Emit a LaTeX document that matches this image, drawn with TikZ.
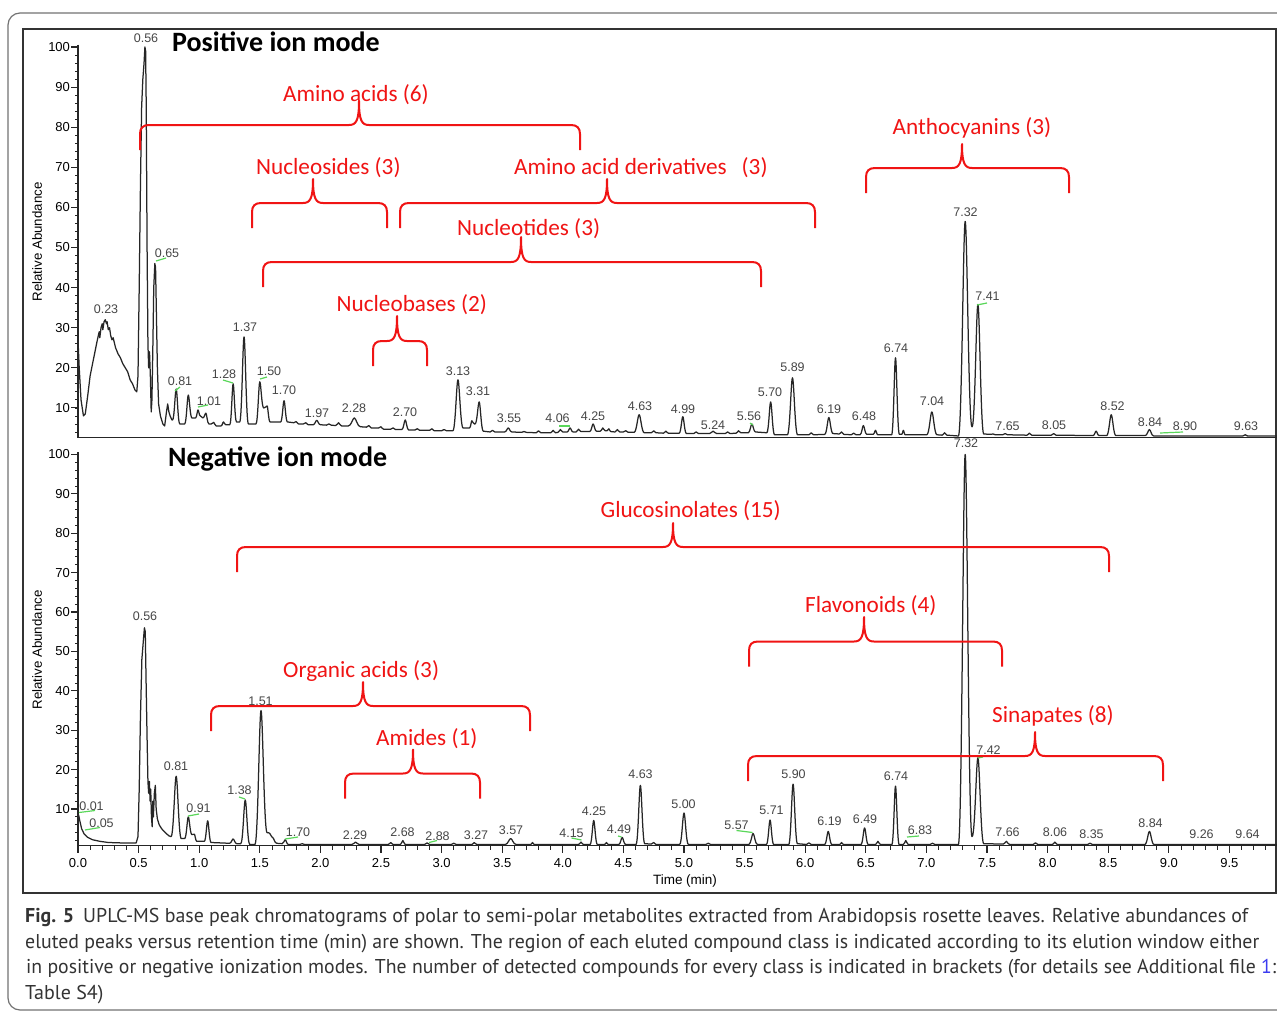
\documentclass[tikz,border=0pt]{standalone}
\usepackage{fontspec}
\usepackage{graphicx}
\setmainfont{Liberation Sans}
\newfontfamily\calfont{Carlito}
\newfontfamily\capfont{PT Sans}
\definecolor{brkred}{RGB}{240,20,20}
\definecolor{pkgray}{RGB}{70,70,70}
\definecolor{grnmark}{RGB}{90,215,90}
\definecolor{linkblue}{RGB}{60,60,240}
\tikzset{
  trace/.style={line width=1.25pt, black!85, line join=round},
  axisline/.style={line width=1.1pt, black!85},
  brk/.style={brkred, line width=2pt, line join=round},
  redlbl/.style={text=brkred, font=\calfont\fontsize{23.2}{23.2}\selectfont, inner sep=0pt, anchor=base west},
  ttl/.style={font=\calfont\bfseries\fontsize{28}{28}\selectfont, inner sep=0pt, anchor=base west},
  pklbl/.style={text=pkgray, font=\fontsize{12.5}{12.5}\selectfont, inner sep=0pt},
  axnum/.style={text=black, font=\fontsize{13}{13}\selectfont, inner sep=0pt},
  grn/.style={grnmark, line width=1.2pt},
  capl/.style={text=black!80, font=\capfont\fontsize{20}{20}\selectfont, inner sep=0pt, anchor=base west}
}
% bracket: x1, x2, xmid, yline, ycusp  (pixel coordinates, y downward)
\newcommand\redbrace[5]{%
  \draw[brk] (#1,#4+25) -- (#1,#4+9) .. controls (#1,#4+3) and (#1+3,#4) .. (#1+9,#4)
    -- ({#3-10},#4) .. controls ({#3-3},#4) and (#3,{#4-4}) .. (#3,#5)
    .. controls (#3,{#4-4}) and ({#3+3},#4) .. ({#3+10},#4)
    -- ({#2-9},#4) .. controls ({#2-3},#4) and (#2,#4+3) .. (#2,#4+9) -- (#2,#4+25);}
\begin{document}
\begin{tikzpicture}[x=1pt,y=-1pt]
\useasboundingbox (0,0) rectangle (1277,1012);
\clip (0,0) rectangle (1277,1012);
\fill[white] (0,0) rectangle (1277,1012);
% frames
\draw[black!55, line width=1.2pt, rounded corners=12pt] (8,13) rectangle (1320,1010);
\draw[black!80, line width=1.4pt] (23,29) rectangle (1276,893);

% ================= TOP PANEL =================
\begin{scope}[shift={(78,448)}, x=121.2pt, y=4.01pt]
  \draw[axisline] (0,100.6) -- (0,2.7) -- (9.9,2.7);
  \foreach \v in {4,6,...,100} {\draw[axisline, line width=0.8pt] (0,\v) -- ++(-3.5pt,0);}
  \foreach \v in {10,20,...,100} {\draw[axisline] (0,\v) -- ++(-7pt,0) node[axnum, anchor=east, xshift=-0.5pt] (ty\v) {\v};}
  \draw[trace] (0,27) -- (0.01,20) -- (0.025,12) -- (0.045,8) -- (0.06,8.5) -- (0.08,13) -- (0.1,18) -- (0.12,21) -- (0.14,24) -- (0.16,27) -- (0.175,29) -- (0.18,27.5) -- (0.19,30) -- (0.2,31) -- (0.205,29.5) -- (0.215,31.5) -- (0.225,32) -- (0.235,31) -- (0.24,31.5) -- (0.25,29.5) -- (0.26,30) -- (0.27,28) -- (0.28,27) -- (0.29,27.5) -- (0.31,25) -- (0.33,23.5) -- (0.35,22.5) -- (0.37,21) -- (0.39,20) -- (0.41,19) -- (0.43,17) -- (0.45,16) -- (0.47,14.5) -- (0.485,14) -- (0.495,18) -- (0.505,40) -- (0.515,65) -- (0.525,85) -- (0.535,92) -- (0.545,96) -- (0.552,100) -- (0.558,99) -- (0.563,85) -- (0.57,50) -- (0.577,26) -- (0.583,20) -- (0.59,24) -- (0.597,18) -- (0.604,9) -- (0.61,12) -- (0.617,24) -- (0.625,40) -- (0.634,46) -- (0.64,45) -- (0.646,35) -- (0.655,20) -- (0.665,11) -- (0.68,8) -- (0.7,6) -- (0.715,5.5) -- (0.73,9) -- (0.74,11) -- (0.75,9) -- (0.76,8) -- (0.775,7)
  \foreach \pkc/\pkh/\pkw/\pkl/\pkr in {
    0.81/14.7/0.03/7/6, 0.91/13.2/0.03/6/7.5, 0.99/9.5/0.02/7.5/8, 1.055/8.7/0.025/7.5/6,
    1.12/6.4/0.02/6/5.5, 1.2/6.5/0.02/5.5/5.8, 1.28/16/0.028/5.8/6.5, 1.37/27.7/0.036/6.5/6,
    1.50/16.5/0.032/6/10, 1.56/10.5/0.025/10/6.5, 1.70/11.8/0.028/6.5/6.5,
    1.8/6.6/0.02/6.3/6, 1.88/6.3/0.02/6/5.8, 1.97/6.9/0.03/5.8/5.8, 2.07/6/0.02/5.7/5.7,
    2.15/6.3/0.025/5.6/5.5, 2.28/7.5/0.05/5.5/5.3, 2.4/5.6/0.02/5.2/5, 2.5/5.3/0.02/5/4.7,
    2.6/5/0.02/4.7/4.6, 2.70/7/0.028/4.6/4.5, 2.8/4.8/0.02/4.5/4.4, 2.92/4.8/0.02/4.4/4.3,
    3.02/4.6/0.02/4.3/4.3, 3.135/17/0.042/4.3/5, 3.25/6.8/0.02/5/6, 3.31/11.5/0.034/6/4.2,
    3.42/4.4/0.02/4/4, 3.55/5/0.03/4/4, 3.68/4.1/0.02/3.9/3.9, 3.8/4.3/0.02/3.8/3.8,
    3.92/4.4/0.02/3.8/3.8, 3.98/4.6/0.02/3.9/4, 4.06/5/0.025/4/4, 4.13/4.7/0.02/4/4.1,
    4.25/6/0.028/4.1/4.2, 4.33/5/0.02/4.2/4.3, 4.38/4.8/0.015/4.3/4.1, 4.45/4.6/0.02/4/4,
    4.52/4.3/0.02/4/3.9, 4.63/8.3/0.042/3.9/3.8, 4.75/4.3/0.02/3.8/3.8, 4.85/4.2/0.02/3.7/3.7,
    4.99/7.8/0.03/3.7/3.6, 5.1/4/0.02/3.6/3.6, 5.24/4.2/0.03/3.6/3.6, 5.36/4/0.02/3.6/3.6,
    5.45/4.3/0.02/3.7/3.8, 5.56/6/0.03/3.8/4, 5.715/11.5/0.032/3.8/3.3, 5.895/17.5/0.042/3.3/3.3,
    6.05/3.8/0.02/3.3/3.3, 6.195/7.6/0.034/3.4/3.6, 6.3/4/0.02/3.5/3.4, 6.4/3.7/0.02/3.3/3.3,
    6.48/5.6/0.028/3.3/3.4, 6.58/4.4/0.02/3.4/3.3, 6.745/22.5/0.032/3.3/3.4, 6.81/4.4/0.015/3.4/3.3,
    7.045/9/0.042/3.3/3.3, 7.15/3.8/0.02/3.2/3.2, 7.32/56.5/0.056/3/5.3, 7.425/35.8/0.048/5.3/3.5,
    7.55/3.5/0.02/3.4/3.3, 7.65/3.6/0.02/3.3/3.3, 7.85/3.7/0.02/3.2/3.2, 8.05/3.6/0.02/3.2/3.2,
    8.4/4.2/0.025/3.1/3.1, 8.525/8.3/0.038/3.1/3.1, 8.84/4.6/0.035/3.1/3.0, 9.63/3.3/0.02/3/3}
  { -- ({\pkc-\pkw},\pkl) .. controls ({\pkc-0.5*\pkw},\pkl) and ({\pkc-0.28*\pkw},\pkh) .. (\pkc,\pkh)
       .. controls ({\pkc+0.28*\pkw},\pkh) and ({\pkc+0.5*\pkw},\pkr) .. ({\pkc+\pkw},\pkr) }
  -- (9.9,3);
\end{scope}

% ================= BOTTOM PANEL =================
\begin{scope}[shift={(78,848.4)}, x=121.2pt, y=3.94pt]
  \draw[axisline] (0,100.6) -- (0,0.7) -- (9.9,0.7);
  \foreach \v in {2,4,...,100} {\draw[axisline, line width=0.8pt] (0,\v) -- ++(-3.5pt,0);}
  \foreach \v in {10,20,...,100} {\draw[axisline] (0,\v) -- ++(-7pt,0) node[axnum, anchor=east, xshift=-0.5pt] (by\v) {\v};}
  \foreach \k in {0,...,98} {\draw[axisline, line width=0.8pt] ({\k/10},0.7) -- ++(0,-4pt);}
  \foreach \k in {0,...,19} {\draw[axisline] ({\k/2},0.7) -- ++(0,-7pt);}
  \draw[trace] (0,8) -- (0.005,8.5) -- (0.015,7) -- (0.03,5) -- (0.05,3.7) -- (0.08,2.8) -- (0.12,2.2) -- (0.18,1.8) -- (0.25,1.5) -- (0.35,1.4) -- (0.48,1.4) -- (0.495,3) -- (0.505,15) -- (0.515,33) -- (0.527,48) -- (0.54,53) -- (0.548,56) -- (0.555,55) -- (0.562,42) -- (0.57,28) -- (0.577,17) -- (0.583,14) -- (0.589,17) -- (0.595,12) -- (0.6,15) -- (0.606,8) -- (0.612,5.5) -- (0.617,12) -- (0.622,8) -- (0.63,14) -- (0.638,16) -- (0.645,10) -- (0.655,7.5) -- (0.67,6) -- (0.69,5) -- (0.72,4) -- (0.75,3.2) -- (0.765,3)
  \foreach \pkc/\pkh/\pkw/\pkl/\pkr in {
    0.81/18.3/0.042/3/2.5, 0.91/8/0.03/2.5/3.5, 0.96/3.6/0.02/3.5/1.8, 1.07/7/0.028/1.8/1.5,
    1.28/2.4/0.03/1.3/1.2, 1.38/12.3/0.037/1.2/1, 1.51/35/0.05/1/4, 1.605/2.8/0.035/4/1.3,
    1.71/2.2/0.025/1.2/1, 1.85/1.2/0.02/1/1, 2.29/1.6/0.03/1/1, 2.58/1.5/0.02/1/1,
    2.68/2/0.02/1/1, 2.88/1.4/0.02/1/1, 3.1/1.3/0.02/1/1, 3.27/1.5/0.02/1/1,
    3.57/2.5/0.045/1/1, 3.75/1.5/0.015/1/1, 4.15/1.6/0.02/1/1, 4.255/7.1/0.03/1/1,
    4.36/1.5/0.015/1/1, 4.49/2.8/0.028/1/1, 4.64/16/0.036/1/1.2, 4.75/1.5/0.02/1.1/1,
    5.0/9/0.036/1/1, 5.2/1.3/0.02/1/1, 5.57/3.8/0.035/1/1, 5.71/7.2/0.03/1/1,
    5.9/16.3/0.036/1/1.2, 6.03/1.4/0.02/1/1, 6.19/4.3/0.03/1/1, 6.3/1.5/0.015/1/1,
    6.49/5.2/0.03/1/1, 6.6/1.8/0.02/1/1, 6.745/15.8/0.03/1/1, 6.83/2/0.02/1/1,
    7.05/1.3/0.02/1/1, 7.32/100/0.056/1/3, 7.425/23/0.048/3/1.2, 7.66/1.8/0.025/1.1/1,
    7.9/1.4/0.02/1/1, 8.06/1.6/0.02/1/1, 8.35/1.3/0.02/1/1, 8.84/4.3/0.038/1/1}
  { -- ({\pkc-\pkw},\pkl) .. controls ({\pkc-0.5*\pkw},\pkl) and ({\pkc-0.28*\pkw},\pkh) .. (\pkc,\pkh)
       .. controls ({\pkc+0.28*\pkw},\pkh) and ({\pkc+0.5*\pkw},\pkr) .. ({\pkc+\pkw},\pkr) }
  -- (9.9,1);
\end{scope}

% x-axis numbers
\foreach \k/\s in {0/0.0,1/0.5,2/1.0,3/1.5,4/2.0,5/2.5,6/3.0,7/3.5,8/4.0,9/4.5,10/5.0,11/5.5,12/6.0,13/6.5,14/7.0,15/7.5,16/8.0,17/8.5,18/9.0,19/9.5}
  {\node[axnum] (xl\k) at ({78+60.6*\k},863) {\s};}
\node[axnum, font=\fontsize{13.5}{13.5}\selectfont] (xtitle) at (685,880.5) {Time (min)};
\node[axnum, rotate=90, font=\fontsize{13.3}{13.3}\selectfont] (ylab1) at (37,242) {Relative Abundance};
\node[axnum, rotate=90, font=\fontsize{13.3}{13.3}\selectfont] (ylab2) at (37,650) {Relative Abundance};

% titles
\node[ttl] (tpos) at (172,51) {Positive ion mode};
\node[ttl] (tneg) at (168,466.5) {Negative ion mode};

% peak labels, top
\foreach \x/\y/\s [count=\i] in {146/38/0.56, 167/253/0.65, 106/309/0.23, 180/381/0.81, 209/401/1.01, 224/374/1.28, 245/327/1.37, 269/371.5/1.50, 284/390/1.70, 317/413/1.97, 354/408/2.28, 405/412.5/2.70, 458/371/3.13, 478/391/3.31, 509/418/3.55, 557.5/418/4.06, 593/416.5/4.25, 640/406/4.63, 683/409/4.99, 713/425/5.24, 749/416/5.56, 770/392.5/5.70, 792.5/367.5/5.89, 829/409/6.19, 864/416.5/6.48, 896/348/6.74, 932/401.5/7.04, 965.5/212/7.32, 987.5/296.5/7.41, 1007.5/426/7.65, 1054/425/8.05, 1112.5/406/8.52, 1150/422.5/8.84, 1185/426/8.90, 1246/426/9.63}
  {\node[pklbl] (pt\i) at (\x,\y) {\s};}
% peak labels, bottom
\foreach \x/\y/\s [count=\i] in {91.5/806/0.01, 101.5/823/0.05, 145/616.5/0.56, 176/766/0.81, 198.5/808/0.91, 239.5/790.5/1.38, 260.5/701/1.51, 298/832.5/1.70, 355/835/2.29, 402.5/832.5/2.68, 437.5/836/2.88, 476/835/3.27, 511/830/3.57, 571.5/833/4.15, 594/811.5/4.25, 619/829/4.49, 640.5/774/4.63, 683.5/804/5.00, 736.5/825/5.57, 771.5/810.5/5.71, 793.5/774/5.90, 829.5/821.5/6.19, 865/819/6.49, 896/776.5/6.74, 920/830/6.83, 966/443/7.32, 988.5/750/7.42, 1007.5/832.5/7.66, 1055/832.5/8.06, 1091.5/834/8.35, 1150.5/823/8.84, 1201.5/834/9.26, 1247.5/834/9.64}
  {\node[pklbl] (pb\i) at (\x,\y) {\s};}

% green markers
\foreach \xa/\ya/\xb/\yb in {156/261/166/258, 175/391/180/387, 198/407/208/405, 223/380/233/383, 260/379/267/377, 559/426/570/426, 750/423/753/425, 977/305/987/303, 1160/433/1183/432,
  79/812.5/95/810.5, 85/830/100/827.5, 188/816/199/814, 239/797/245/799, 285/839/298/837, 429/842.5/437/840.5, 571.5/838/581.5/840, 618/836/621.5/837, 736.5/830.5/752.5/832.5, 907/837/919/836, 978/758/983/757}
  {\draw[grn] (\xa,\ya) -- (\xb,\yb);}

% red brackets and labels, top
\redbrace{140}{580}{359}{125}{101}
\node[redlbl] (amino) at (283,101) {Amino acids (6)};
\redbrace{252}{387}{313}{203}{179}
\node[redlbl] (nucs) at (256,174) {Nucleosides (3)};
\redbrace{400}{815}{607}{203}{179}
\node[redlbl] (aad) at (514,174) {Amino acid derivatives};
\node[redlbl] (aadn) at (741.5,174) {(3)};
\redbrace{263}{761}{521}{262}{237}
\node[redlbl] (nuct) at (457,235) {Nucleotides (3)};
\redbrace{373}{427}{397}{341}{316}
\node[redlbl] (nucb) at (336.5,311.5) {Nucleobases (2)};
\redbrace{866}{1069}{962}{168}{144}
\node[redlbl] (antho) at (892.5,134) {Anthocyanins (3)};

% red brackets and labels, bottom
\redbrace{237}{1109}{673}{547}{523}
\node[redlbl] (gluc) at (600.5,517) {Glucosinolates (15)};
\redbrace{749}{1002}{864}{641.5}{617}
\node[redlbl] (flav) at (805,612.5) {Flavonoids (4)};
\redbrace{211}{530}{363}{706}{682}
\node[redlbl] (orga) at (283,677.5) {Organic acids (3)};
\redbrace{345}{480}{413}{773.5}{749.5}
\node[redlbl] (amid) at (376,745) {Amides (1)};
\redbrace{748}{1163}{1035}{756}{732}
\node[redlbl] (sina) at (992,722.5) {Sinapates (8)};

% caption
\node[capl] (cap1) at (25,922) {\resizebox{1223pt}{\height}{\textbf{Fig. 5}\hspace{0.45em}UPLC-MS base peak chromatograms of polar to semi-polar metabolites extracted from Arabidopsis rosette leaves. Relative abundances of}};
\node[capl] (cap2) at (25,948) {\resizebox{1234pt}{\height}{eluted peaks versus retention time (min) are shown. The region of each eluted compound class is indicated according to its elution window either}};
\node[capl] (cap3) at (26,973.5) {\resizebox{1250pt}{\height}{in positive or negative ionization modes. The number of detected compounds for every class is indicated in brackets (for details see Additional file \textcolor{linkblue}{1}:}};
\node[capl] (cap4) at (25,999) {Table S4)};
\end{tikzpicture}
\end{document}
